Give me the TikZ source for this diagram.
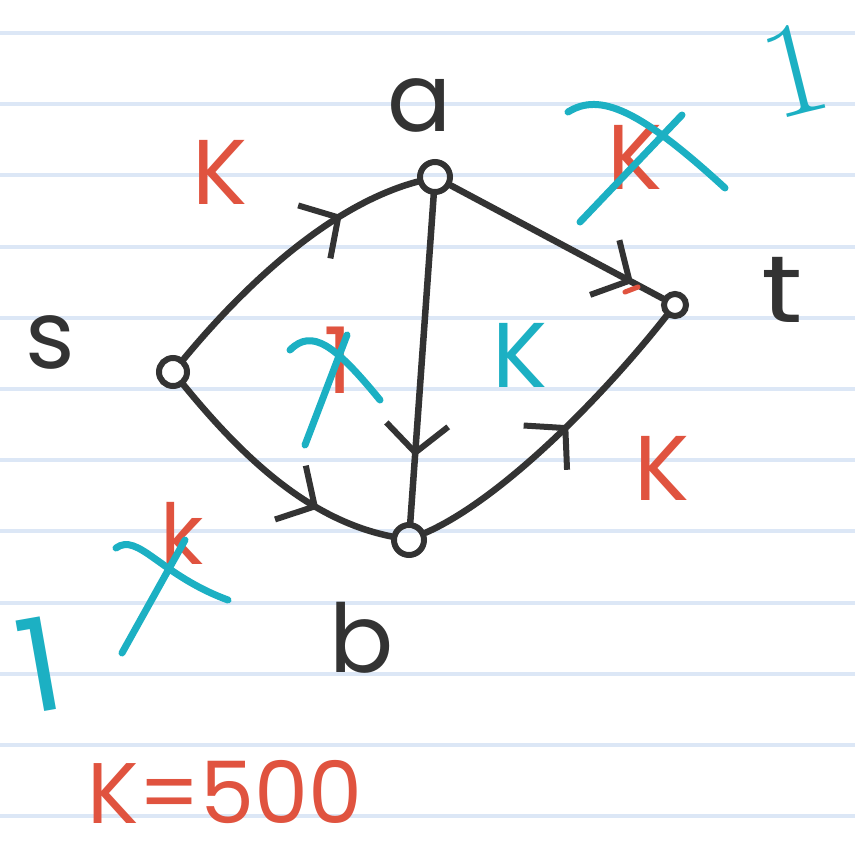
\documentclass[tikz,border=0pt]{standalone}
\usepackage{fontspec}
\newfontfamily\hand{Poppins}
\usetikzlibrary{arrows.meta,decorations.markings}
\definecolor{penred}{HTML}{E0533F}
\definecolor{penblue}{HTML}{1CB0C3}
\definecolor{penblack}{HTML}{333333}
\definecolor{ruleblue}{HTML}{DCE7F6}
\tikzset{
  vtx/.style={circle, draw=penblack, line width=6pt, minimum size=28pt, inner sep=0pt},
  gedge/.style={draw=penblack, line width=6.5pt, line cap=round, postaction={decorate}},
  midarrow/.style={decoration={markings, mark=at position #1 with {\arrow{Straight Barb[length=28pt,width=62pt,line width=6pt]}}}},
  blk/.style={text=penblack, font=\hand\fontsize{95}{95}\selectfont, inner sep=0pt},
  redlbl/.style={text=penred, font=\hand\fontsize{92}{92}\selectfont, inner sep=0pt},
  bluelbl/.style={text=penblue, font=\hand\fontsize{92}{92}\selectfont, inner sep=0pt},
  strike/.style={draw=penblue, line width=7pt, line cap=round},
  paperline/.style={draw=ruleblue, line width=4pt}
}
\begin{document}
\begin{tikzpicture}[x=1pt,y=-1pt]
\useasboundingbox (0,0) rectangle (855,859);
\fill[white] (0,0) rectangle (855,859);
% ruled paper
\foreach \k in {0,...,11}{
  \draw[paperline] (0,{33+71.2*\k}) -- (855,{33+71.2*\k});
}
% vertices
\node[vtx] (s) at (173,372) {};
\node[vtx, minimum size=30pt] (a) at (435,177) {};
\node[vtx, minimum size=30pt] (b) at (409,540) {};
\node[vtx, minimum size=22pt] (t) at (675,305) {};
% vertex names
\node[blk] (ls) at (50,342) {s};
\node[blk] (la) at (420,105) {a};
\node[blk] (lb) at (362,638) {b};
\node[blk, xscale=1.2] (lt) at (782,290) {t};
% edges
\draw[gedge, midarrow=0.72] (s) .. controls (245,285) and (330,205) .. (a);
\draw[gedge, midarrow=0.70] (s) .. controls (245,460) and (310,520) .. (b);
\draw[gedge, midarrow=0.80] (a) -- (b);
\draw[gedge, midarrow=0.86] (a) -- (t);
\draw[gedge, midarrow=0.55] (b) .. controls (500,500) and (600,400) .. (t);
% capacity labels
\node[redlbl] (k1) at (220,172) {K};
\node[redlbl] (k2) at (662,468) {K};
\node[bluelbl] (k3) at (520,355) {K};
\node[redlbl] (k4) at (635,157) {K};
\node[redlbl, font=\hand\fontsize{84}{84}\selectfont] (k5) at (182,533) {k};
\node[redlbl] (one1) at (338,360) {1};
\node[bluelbl, font=\rmfamily\fontsize{135}{135}\selectfont, rotate=14] (one2) at (795,70) {1};
\node[bluelbl, font=\hand\fontsize{130}{130}\selectfont, rotate=10] (one3) at (40,665) {1};
\node[redlbl, font=\hand\fontsize{86}{86}\selectfont] (kval) at (225,792) {K=500};
% red tick near t
\draw[draw=penred, line width=5pt, line cap=round] (625,292) -- (638,287);
% blue strike-outs
\draw[strike] (290,350) .. controls (312,328) and (335,345) .. (380,400);
\draw[strike] (305,445) -- (347,335);
\draw[strike] (568,112) .. controls (600,92) and (640,110) .. (725,188);
\draw[strike] (580,222) -- (682,115);
\draw[strike] (116,548) .. controls (138,532) and (160,575) .. (228,600);
\draw[strike] (122,653) -- (185,540);
\end{tikzpicture}
\end{document}
